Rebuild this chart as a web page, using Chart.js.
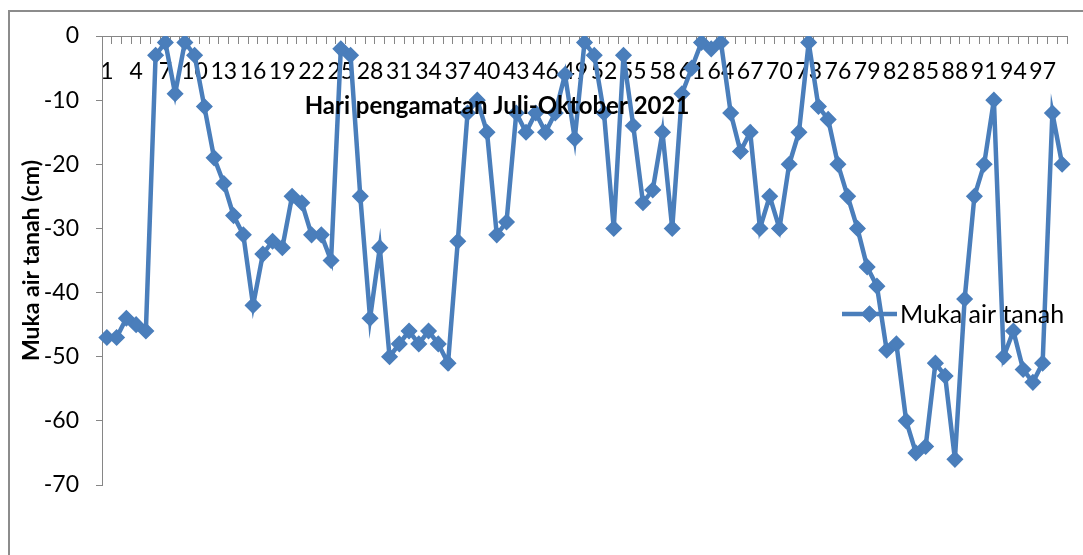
<!DOCTYPE html>
<html>
<head>
<meta charset="utf-8">
<title>Muka air tanah</title>
<script src="https://cdn.jsdelivr.net/npm/chart.js@4.4.1/dist/chart.umd.min.js"></script>
<style>
  html, body { margin: 0; padding: 0; background: #ffffff; }
  #chart { display: block; }
</style>
</head>
<body>
<canvas id="chart" width="1083" height="555"></canvas>
<script>
// Observation days (July–October 2021)
const days = [
  1, 2, 3, 4, 5, 6, 7, 8, 9, 10, 11, 12, 13, 14, 15, 16, 17, 18, 19, 20,
  21, 22, 23, 24, 25, 26, 27, 28, 29, 30, 31, 32, 33, 34, 35, 36, 37, 38, 39, 40,
  41, 42, 43, 44, 45, 46, 47, 48, 49, 50, 51, 52, 53, 54, 55, 56, 57, 58, 59, 60,
  61, 62, 63, 64, 65, 66, 67, 68, 69, 70, 71, 72, 73, 74, 75, 76, 77, 78, 79, 80,
  81, 82, 83, 84, 85, 86, 87, 88, 89, 90, 91, 92, 93, 94, 95, 96, 97, 98, 99
];

// Groundwater level (cm below surface)
const mukaAirTanah = [
  -47, -47, -44, -45, -46, -3, -1, -9, -1, -3,
  -11, -19, -23, -28, -31, -42, -34, -32, -33, -25,
  -26, -31, -31, -35, -2, -3, -25, -44, -33, -50,
  -48, -46, -48, -46, -48, -51, -32, -12, -10, -15,
  -31, -29, -12, -15, -12, -15, -12, -6, -16, -1,
  -3, -12, -30, -3, -14, -26, -24, -15, -30, -9,
  -5, -1, -2, -1, -12, -18, -15, -30, -25, -30,
  -20, -15, -1, -11, -13, -20, -25, -30, -36, -39,
  -49, -48, -60, -65, -64, -51, -53, -66, -41, -25,
  -20, -10, -50, -46, -52, -54, -51, -12, -20
];

// Value axis ticks
const yTicks = [0, -10, -20, -30, -40, -50, -60, -70];

const seriesName = 'Muka air tanah';
const xTitle = 'Hari pengamatan Juli-Oktober 2021';
const yTitle = 'Muka air tanah (cm)';

const lineBlue = '#4a7ebb';
const axisGray = '#868686';
const textColor = '#000000';
const fontFamily = 'Lato, "Open Sans", sans-serif';

// Outer frame of the chart
const framePlugin = {
  id: 'frame',
  beforeDraw(chart) {
    const { ctx, width, height } = chart;
    ctx.save();
    ctx.strokeStyle = '#8c8c8c';
    ctx.lineWidth = 2;
    ctx.beginPath();
    ctx.moveTo(9, height + 2);
    ctx.lineTo(9, 11);
    ctx.lineTo(width + 2, 11);
    ctx.stroke();
    ctx.restore();
  }
};

// Category axis title, placed just below the day labels
const xTitlePlugin = {
  id: 'xTitle',
  afterDraw(chart, args, opts) {
    const { ctx } = chart;
    ctx.save();
    ctx.font = 'bold 24px ' + fontFamily;
    ctx.fillStyle = textColor;
    ctx.textAlign = 'center';
    ctx.textBaseline = 'middle';
    ctx.fillText(opts.text, opts.x, opts.y);
    ctx.restore();
  }
};

// Legend entry drawn over the plot on the right
const legendPlugin = {
  id: 'overlayLegend',
  afterDatasetsDraw(chart, args, opts) {
    const { ctx } = chart;
    const ds = chart.data.datasets[0];
    const y = opts.y;
    ctx.save();
    ctx.strokeStyle = ds.borderColor;
    ctx.lineWidth = ds.borderWidth;
    ctx.beginPath();
    ctx.moveTo(opts.x, y);
    ctx.lineTo(opts.x + opts.lineLength, y);
    ctx.stroke();
    ctx.lineWidth = ds.pointBorderWidth;
    Chart.helpers.drawPoint(ctx, {
      pointStyle: ds.pointStyle,
      radius: ds.pointRadius,
      borderWidth: ds.pointBorderWidth,
      rotation: 0
    }, opts.x + opts.lineLength / 2, y);
    ctx.fillStyle = ds.borderColor;
    ctx.fill();
    ctx.stroke();
    ctx.font = '25px ' + fontFamily;
    ctx.fillStyle = textColor;
    ctx.textAlign = 'left';
    ctx.textBaseline = 'middle';
    ctx.fillText(ds.label, opts.x + opts.lineLength + 3, y + 1);
    ctx.restore();
  }
};

new Chart(document.getElementById('chart'), {
  type: 'line',
  data: {
    labels: days,
    datasets: [{
      label: seriesName,
      data: mukaAirTanah,
      borderColor: lineBlue,
      backgroundColor: lineBlue,
      borderWidth: 4.5,
      tension: 0,
      pointStyle: 'rectRot',
      pointRadius: 7.5,
      pointBorderWidth: 1.5,
      pointBackgroundColor: lineBlue,
      pointBorderColor: lineBlue,
      pointHoverRadius: 7.5
    }]
  },
  options: {
    responsive: false,
    animation: false,
    devicePixelRatio: 1,
    layout: {
      padding: { left: 10, top: 36, right: 16, bottom: 70 }
    },
    plugins: {
      legend: { display: false },
      tooltip: { enabled: false },
      xTitle: { text: xTitle, x: 497, y: 106 },
      overlayLegend: { x: 842, y: 314, lineLength: 55 }
    },
    scales: {
      x: {
        type: 'category',
        position: { y: 0 },
        offset: true,
        grid: {
          display: true,
          offset: true,
          drawOnChartArea: false,
          drawTicks: true,
          tickLength: 7,
          color: axisGray,
          lineWidth: 1
        },
        border: { display: true, color: axisGray, width: 1 },
        ticks: {
          autoSkip: false,
          maxRotation: 0,
          minRotation: 0,
          padding: 15,
          color: textColor,
          font: { family: fontFamily, size: 23 },
          callback(value, index) {
            return index % 3 === 0 ? this.getLabelForValue(value) : '';
          }
        }
      },
      y: {
        position: 'left',
        min: Math.min(...yTicks),
        max: Math.max(...yTicks),
        afterBuildTicks(scale) {
          scale.ticks = yTicks.map(v => ({ value: v }));
        },
        afterFit(scale) {
          scale.width = 92;
        },
        grid: {
          display: true,
          drawOnChartArea: false,
          drawTicks: true,
          tickLength: 6,
          color: axisGray,
          lineWidth: 1
        },
        border: { display: true, color: axisGray, width: 1 },
        ticks: {
          padding: 17,
          color: textColor,
          font: { family: fontFamily, size: 23 }
        },
        title: {
          display: true,
          text: yTitle,
          color: textColor,
          font: { family: fontFamily, size: 23, weight: 'bold' },
          padding: { top: 8, bottom: 0 }
        }
      }
    }
  },
  plugins: [framePlugin, xTitlePlugin, legendPlugin]
});
</script>
</body>
</html>
